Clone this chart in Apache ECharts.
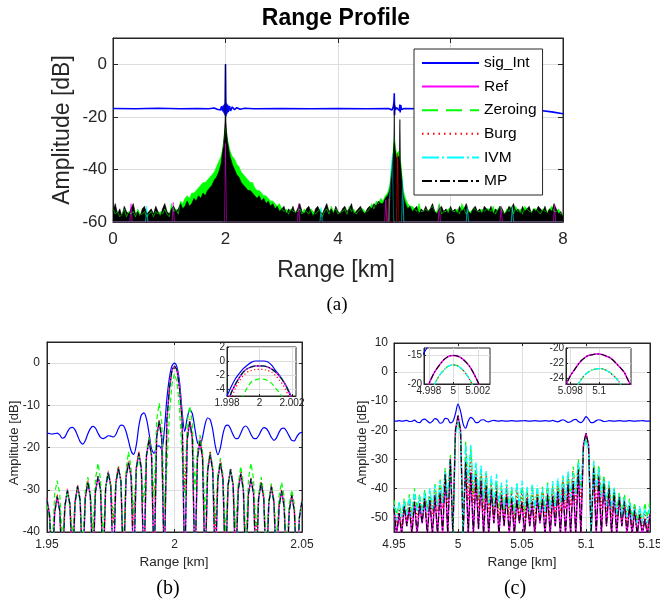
<!DOCTYPE html>
<html><head><meta charset="utf-8">
<script src="https://cdn.jsdelivr.net/npm/echarts@6/dist/echarts.min.js"></script>
<style>html,body{margin:0;padding:0;background:#fff}#c{width:660px;height:606px}</style>
</head><body><div id="c"></div>
<script>
// ================= DATA =================
const seriesNames = ['sig_Int','Ref','Zeroing','Burg','IVM','MP'];

// ---- Panel (a): 0..8 km ----
const aTicksX = [0,2,4,6,8];
const aTicksY = [-60,-40,-20,0];
const aNoiseX0 = 0, aNoiseStep = 0.04;
const aMP = [
-56,-53,-57,-55,-58,-54,-56,-57,-55,-53,
-57,-56,-58,-55,-54,-57,-56,-55,-57,-54,
-56,-58,-55,-53,-56,-57,-55,-54,-56,-55,
-53,-55,-54,-52,-54,-53,-51,-52,-50,-51,
-49,-50,-48,-47,-46,-44,-43,-41,-38,-31,
-22,-30,-35,-38,-40,-42,-43,-45,-46,-47,
-48,-48,-49,-50,-51,-50,-52,-51,-53,-52,
-54,-53,-55,-54,-56,-55,-54,-57,-55,-56,
-54,-57,-55,-53,-56,-57,-55,-54,-56,-58,
-55,-54,-56,-57,-55,-53,-56,-55,-57,-54,
-56,-57,-55,-54,-56,-55,-53,-57,-56,-55,
-54,-56,-57,-55,-54,-55,-53,-54,-52,-53,
-53,-51,-50,-48,-40,-30,-36,-35,-40,-50,
-53,-55,-54,-56,-55,-54,-57,-55,-56,-54,
-56,-55,-53,-56,-57,-55,-54,-56,-55,-57,
-54,-56,-55,-57,-54,-56,-55,-53,-56,-57,
-55,-54,-56,-55,-57,-54,-55,-56,-54,-57,
-55,-56,-54,-55,-57,-56,-54,-55,-53,-56,
-55,-57,-54,-56,-55,-54,-57,-55,-56,-54,
-55,-56,-54,-57,-55,-56,-53,-55,-57,-56,
-58];
const aZeroing = [
-55,-57,-56,-58,-57,-55,-58,-56,-57,-56,
-58,-55,-57,-57,-56,-58,-57,-56,-58,-56,
-57,-56,-57,-55,-57,-58,-53,-56,-55,-57,
-52,-53,-51,-50,-51,-49,-49,-48,-47,-46,
-45,-45,-44,-43,-42,-41,-39,-37,-35,-31,
-24,-29,-33,-35,-36,-38,-39,-41,-42,-43,
-44,-45,-45,-47,-48,-48,-49,-50,-50,-51,
-52,-52,-53,-54,-53,-55,-56,-55,-57,-55,
-56,-56,-56,-55,-57,-55,-56,-57,-55,-56,
-57,-56,-55,-58,-56,-55,-57,-54,-56,-55,
-57,-56,-56,-55,-57,-54,-56,-55,-57,-56,
-55,-55,-56,-56,-55,-53,-55,-52,-53,-51,
-52,-50,-49,-46,-38,-28,-34,-33,-38,-48,
-51,-53,-54,-54,-55,-56,-53,-56,-56,-55,
-56,-55,-54,-56,-56,-53,-57,-56,-56,-55,
-55,-56,-56,-55,-57,-53,-55,-57,-56,-56,
-55,-55,-56,-56,-55,-56,-55,-55,-56,-54,
-57,-55,-54,-56,-57,-55,-56,-54,-57,-54,
-56,-55,-57,-54,-55,-56,-56,-55,-55,-56,
-57,-55,-56,-56,-55,-54,-56,-56,-55,-57,
-57];
const aMPPeaks = [[1.97,-60],[1.985,-28],[1.995,-18],[1.999,-6],[2.0,0],[2.001,-6],[2.005,-18],[2.015,-28],[2.03,-60],
  [4.98,-60],[4.995,-25],[5.0,-15],[5.005,-25],[5.02,-60],[5.08,-60],[5.095,-28],[5.1,-21],[5.105,-28],[5.12,-60]];
const aRefSpikes = [[0,-60],[0.30,-60],[0.32,-53],[0.34,-60],[1.05,-60],[1.07,-52.5],[1.09,-60],[1.98,-60],[2.0,-30],[2.02,-60],
  [3.28,-60],[3.30,-53],[3.32,-60],[4.83,-60],[4.85,-51.5],[4.87,-60],[5.78,-60],[5.80,-53.5],[5.82,-60],
  [6.88,-60],[6.90,-54],[6.92,-60],[7.83,-60],[7.85,-53.5],[7.87,-60],[8,-60]];
const aIVMSpikes = [[0,-60],[0.58,-60],[0.6,-54],[0.62,-60],[3.68,-60],[3.7,-54.5],[3.72,-60],[4.9,-60],[4.93,-45],[4.95,-38],
  [4.97,-34],[4.99,-60],[5.13,-60],[5.15,-44],[5.17,-60],[6.28,-60],[6.3,-54],[6.32,-60],[7.08,-60],[7.1,-54],[7.12,-60],[8,-60]];
const aBurgSpikes = [[0,-60],[4.88,-60],[4.9,-51],[4.92,-60],[5.04,-60],[5.06,-34],[5.08,-60],[8,-60]];
const aSigInt = [[0,-16.8],[0.4,-16.9],[0.8,-16.7],[1.2,-16.9],[1.5,-16.8],[1.7,-16.9],[1.8,-16.6],[1.85,-17.1],[1.88,-16.4],
  [1.91,-17.4],[1.93,-16.0],[1.95,-17.9],[1.965,-15.6],[1.975,-18.6],[1.985,-15.0],[1.992,-19.4],[1.996,-12],[2.0,0],
  [2.004,-12],[2.008,-19.8],[2.015,-14.8],[2.025,-18.8],[2.035,-15.3],[2.05,-18.2],[2.07,-15.8],[2.09,-17.7],[2.12,-16.2],
  [2.16,-17.3],[2.2,-16.5],[2.26,-17.1],[2.34,-16.7],[2.5,-16.9],[3.0,-16.8],[3.5,-16.9],[4.0,-16.8],[4.5,-16.9],[4.9,-16.8],
  [4.96,-17.4],[4.985,-16.0],[4.996,-14],[5.0,-11],[5.003,-14],[5.006,-19.4],[5.01,-15.6],[5.02,-17.4],[5.04,-16.5],
  [5.07,-17.0],[5.09,-17.6],[5.1,-15.3],[5.105,-18.3],[5.115,-15.5],[5.13,-17.2],[5.18,-16.8],[5.5,-16.9],[6.0,-16.8],
  [6.5,-16.9],[7.0,-16.9],[7.3,-17.1],[7.6,-17.6],[7.8,-18.1],[8.0,-18.8]];

// ---- Panel (b): 1.95..2.05 km, step 0.001 ----
const bTicksX = [1.95,2,2.05];
const bTicksY = [-40,-30,-20,-10,0];
const bX0 = 1.95, bStep = 0.001;
const bMP = [
-32.5,-36,-50,-35.5,-31.6,-35,-50,-34,-30.2,-33.5,
-50,-33,-29.2,-32.5,-50,-32,-28.2,-31.5,-50,-30.5,
-26.9,-30,-50,-29.5,-25.9,-29,-50,-28.5,-24.9,-28,
-50,-27,-23.5,-27,-50,-25,-21.3,-25,-50,-22,
-18.2,-22,-50,-17.5,-13.8,-18,-50,-13.5,-6.0,-1.6,
-0.7,-1.6,-6.0,-13.5,-50,-18,-13.8,-18,-50,-22.5,
-18.5,-22.5,-50,-25.5,-21.6,-25.5,-50,-27.5,-23.6,-27.5,
-50,-29,-25.2,-29,-50,-30,-26.2,-30,-50,-31,
-27.4,-31,-50,-32,-28.4,-32,-50,-33,-29.3,-33,
-50,-34,-30.3,-34,-50,-35,-31.3,-35,-50,-36.5,
-32.7];
const bBurg = [
-32,-35.5,-45,-35,-31,-34.5,-48,-33.5,-29.8,-33,
-44,-32.5,-28.8,-32,-50,-31.5,-27.8,-31,-44,-30,
-26.5,-29.5,-50,-29,-25.5,-28.5,-38,-28,-24.4,-27.5,
-50,-26.5,-23,-26.5,-38.5,-24.5,-20.8,-24.5,-50,-21.5,
-17.6,-21.5,-42,-17,-13.3,-17.5,-50,-14,-6.6,-2.1,
-1.2,-2.1,-6.6,-14,-30,-17,-13.2,-17,-50,-21.5,
-17.6,-21.5,-50,-25,-20.8,-25,-40,-27,-23,-27,
-50,-28.5,-24.8,-28.5,-45,-29.5,-25.8,-29.5,-50,-30.5,
-27,-30.5,-42,-31.5,-28,-31.5,-50,-32.5,-28.9,-32.5,
-46,-33.5,-29.9,-33.5,-50,-34.5,-31,-34.5,-46,-36,
-32.3];
const bZeroing = [
-33.5,-37,-44,-31,-27.8,-31,-42,-34,-30.5,-34,
-41,-33,-29.5,-33,-44,-30.5,-27,-30.5,-40,-27.5,
-23.7,-27.5,-42,-29.5,-26,-29.5,-38,-28,-24.5,-28,
-45,-25,-21,-25,-36,-26,-22,-26,-33,-21.5,
-17.5,-21.5,-32,-13.5,-9.5,-14,-34,-25,-12,-5,
-2.5,-4.5,-11,-22,-32,-14,-10.2,-14,-30,-21,
-17,-21,-36,-24.5,-21,-24.5,-38,-26.5,-22.5,-26.5,
-40,-29,-25,-29,-39,-28.5,-24.5,-28.5,-42,-27.5,
-23.7,-27.5,-40,-31,-27,-31,-44,-32.5,-28.5,-32.5,
-42,-31.5,-28.2,-31.5,-45,-33.5,-30,-33.5,-47,-36.5,
-32.7];
const bSigInt = [
-16.6,-16.7,-16.8,-16.7,-16.6,-17.0,-17.8,-17.5,-16.3,-15.4,
-15.2,-15.8,-17.2,-18.6,-19.2,-18.4,-16.8,-15.5,-15.0,-15.4,
-16.6,-17.6,-17.9,-17.6,-17.2,-17.3,-17.5,-16.9,-15.5,-14.7,
-14.8,-16.2,-18.5,-20.8,-21.6,-19.5,-15.0,-12.3,-11.8,-13.2,
-16.5,-20.3,-21.4,-19.8,-19.6,-20.5,-16.0,-8.5,-3.5,-0.7,
0.0,-1.0,-4.6,-11.5,-16.2,-13.0,-11.0,-12.0,-15.5,-18.8,
-19.5,-17.5,-14.5,-13.0,-13.4,-15.8,-19.6,-21.7,-20.0,-16.8,
-14.9,-14.7,-15.6,-17.0,-17.9,-17.8,-16.6,-15.3,-14.9,-15.6,
-16.9,-17.8,-17.9,-17.2,-16.0,-15.3,-15.5,-16.4,-17.6,-18.3,
-17.7,-16.4,-15.5,-15.4,-16.2,-17.3,-18.3,-18.4,-17.4,-16.6,
-16.4];

// ---- Inset of (b): 1.998..2.00225 km, step 0.00025 ----
const ibTicksX = [1.998,2,2.002];
const ibTicksY = [-4,-2,0,2];
const ibX0 = 1.998, ibStep = 0.00025;
const ibSigInt = [-5.0,-3.7,-2.6,-1.8,-1.1,-0.6,-0.2,0.0,0.0,0.0,-0.1,-0.6,-1.4,-2.1,-3.0,-4.0,-5.3,-6.8];
const ibMP     = [-6.5,-4.6,-3.4,-2.4,-1.6,-1.1,-0.85,-0.72,-0.7,-0.72,-0.85,-1.15,-1.6,-2.2,-3.0,-4.1,-5.6,-7.2];
const ibBurg   = [-7.5,-5.6,-4.0,-2.9,-2.1,-1.6,-1.35,-1.22,-1.2,-1.22,-1.35,-1.6,-2.1,-2.8,-3.6,-4.8,-6.5,-8.5];
const ibZeroing= [-12,-10,-8,-6.5,-5.0,-3.8,-3.0,-2.7,-2.55,-2.6,-2.8,-3.2,-3.9,-4.6,-5.6,-7.5,-9.5,-11];

// ---- Panel (c): 4.95..5.15 km, step 0.002 ----
const cTicksX = [4.95,5,5.05,5.1,5.15];
const cTicksY = [-50,-40,-30,-20,-10,0,10];
const cX0 = 4.95, cStep = 0.002;
const cMP = [
-47,-56,-48.5,-56,-46,-53,-46.5,-56,-44.5,-56,
-45.5,-52,-43.5,-56,-44,-56,-42.5,-56,-41.5,-56,
-35,-56,-30,-56,-20,-15,-20,-56,-31,-56,
-34.5,-56,-36,-54,-37.5,-56,-39,-56,-40.5,-52,
-41,-56,-42.5,-53,-42,-56,-43.5,-56,-44,-52,
-44.5,-56,-43.5,-53,-44.5,-56,-43,-52,-43.5,-56,
-42,-56,-42.5,-53,-41,-56,-40,-56,-38.5,-56,
-37.5,-56,-33.5,-56,-25,-21,-25,-56,-33,-56,
-36,-56,-38,-53,-40,-56,-41.5,-56,-43,-53,
-44.5,-56,-46,-56,-47.5,-56,-49,-56,-50.5,-56,
-49];
const cZeroing = [
-44,-49,-45,-50,-43.5,-48,-42,-49,-40,-47,
-42,-48,-40.5,-47,-41,-48,-38.5,-46,-37,-45,
-33,-44,-28.5,-56,-21.5,-16.7,-21.5,-56,-24,-40,
-25.5,-42,-32,-44,-33.5,-45,-34.5,-46,-37,-47,
-37.5,-47,-39,-48,-38.5,-47,-40,-49,-38.5,-47,
-39.5,-48,-40.5,-48,-39,-47,-40,-48,-39.5,-47,
-38,-47,-39,-46,-37.5,-45,-36,-44,-35,-43,
-32.5,-42,-30,-40,-26.5,-22.8,-26.5,-56,-30.5,-40,
-32,-42,-35.5,-45,-38.5,-47,-40,-48,-41.5,-49,
-42,-49,-43.5,-50,-45,-51,-47,-52,-45,-50,
-44];
const cIVM = [
-46,-51,-44.5,-50,-44,-49,-43,-50,-41,-48,
-42.5,-49,-41,-48,-40,-47,-39,-46,-37.5,-45,
-34,-43,-30,-56,-21.5,-16.7,-21.5,-56,-25,-38,
-25,-40,-31,-42,-32,-44,-34,-45,-35.5,-46,
-35,-45,-38,-47,-37,-46,-39.5,-48,-38,-46,
-37.3,-46,-39.5,-48,-38.5,-47,-39,-48,-40,-48,
-38.5,-47,-37.5,-46,-36.5,-45,-35.5,-44,-34,-43,
-34.8,-42,-31,-40,-26.5,-22.8,-26.5,-56,-30.8,-40,
-33,-43,-36.5,-46,-37.5,-47,-39.5,-49,-42,-50,
-43,-50,-44.5,-51,-46,-52,-46,-52,-46.5,-52,
-46];
const cBurg = [
-46.5,-52,-47,-53,-45,-51,-45,-52,-42.5,-50,
-44,-50,-42,-49,-42.5,-49,-40.5,-48,-39.5,-47,
-34,-46,-29.5,-56,-21,-16,-21,-56,-27,-44,
-30,-45,-33.5,-47,-35,-48,-35.5,-48,-38.5,-50,
-39,-50,-40.5,-51,-39.5,-50,-41.5,-51,-40.5,-50,
-41,-51,-41.5,-51,-41.5,-51,-40.5,-50,-40.5,-50,
-40,-50,-40,-49,-38.5,-48,-37,-47,-36,-46,
-34,-45,-31.5,-44,-25.5,-21.8,-25.5,-56,-31.5,-45,
-34,-47,-37,-48,-39,-50,-40.5,-50,-42,-51,
-43.5,-52,-45,-53,-46,-53,-48,-54,-48,-54,
-47];
const cSigInt = [
-16.8,-16.9,-16.7,-16.9,-16.8,-16.6,-17.0,-16.9,-16.5,-17.2,
-17.4,-16.5,-16.2,-16.8,-17.5,-16.9,-16.0,-16.4,-17.6,-17.3,
-15.9,-16.1,-17.5,-17.0,-14.3,-11.0,-13.5,-17.8,-19.3,-16.8,
-15.6,-16.2,-17.4,-17.3,-16.5,-16.4,-16.9,-17.1,-16.8,-16.6,
-16.8,-16.9,-16.7,-16.8,-16.9,-16.8,-16.7,-16.8,-16.9,-16.8,
-16.8,-16.7,-16.8,-16.9,-16.8,-16.7,-16.8,-16.9,-16.8,-16.7,
-16.8,-16.9,-16.6,-16.9,-17.1,-16.7,-16.4,-16.8,-17.3,-17.1,
-16.5,-16.3,-17.0,-17.4,-16.6,-15.3,-16.2,-17.4,-17.3,-16.7,
-16.4,-16.6,-17.0,-16.9,-16.7,-16.8,-16.9,-16.8,-16.7,-16.8,
-16.9,-16.8,-16.7,-16.8,-16.9,-16.8,-16.8,-16.7,-16.8,-16.9,
-16.8];

// ---- Inset 1 of (c): 4.9975..5.003 km, step 0.00025 ----
const ic1TicksX = [4.998,5,5.002];
const ic1TicksY = [-20,-15];
const ic1X0 = 4.9975, ic1Step = 0.00025;
const ic1MP  = [-23,-21.4,-20.0,-18.8,-17.8,-17.0,-16.3,-15.7,-15.3,-15.05,-15.0,-15.05,-15.25,-15.6,-16.1,-16.7,-17.5,-18.5,-19.6,-20.9,-22.3,-24,-26];
const ic1Low = [-26,-24,-22.3,-21,-19.9,-18.9,-18.1,-17.5,-17.0,-16.75,-16.65,-16.75,-17.0,-17.5,-18.1,-18.9,-19.9,-21.0,-22.3,-24,-26,-28,-30];
const ic1SigInt = [-14.9,-14.0,-13.2,-12.5,-12.0,-11.6,-11.3,-11.1,-11.0,-10.95,-10.9,-10.95,-11.0,-11.1,-11.3,-11.5,-11.8,-12.0,-12.3,-12.6,-12.9,-13.1,-13.3];

// ---- Inset 2 of (c): 5.0975..5.1025 km, step 0.00025 ----
const ic2TicksX = [5.098,5.1];
const ic2TicksY = [-24,-22,-20];
const ic2X0 = 5.0975, ic2Step = 0.00025;
const ic2MP  = [-25.8,-24.7,-23.7,-23.0,-22.3,-21.7,-21.3,-21.0,-20.9,-20.8,-20.8,-20.9,-21.1,-21.3,-21.7,-22.2,-22.7,-23.3,-24.3,-25.2,-26.2];
const ic2Low = [-29,-28,-27,-26.2,-25,-24.2,-23.6,-23.2,-22.95,-22.8,-22.75,-22.8,-23.0,-23.3,-23.7,-24.2,-24.9,-25.7,-26.6,-27.6,-28.6];

// ================= STYLE / BUILD =================
const FF = '"Liberation Sans", Arial, Helvetica, sans-serif';
const SERIF = '"Liberation Serif", "Times New Roman", serif';
const AXC = '#262626', GRC = '#dedede';
const sty = {
  sig_Int: {color:'#0000ff', width:1.2, type:'solid'},
  Ref:     {color:'#ff00ff', width:1.5, type:'solid'},
  Zeroing: {color:'#00ff00', width:1.2, type:[5,3]},
  Burg:    {color:'#ff0000', width:1.2, type:[1.2,2.4]},
  IVM:     {color:'#00ffff', width:1.3, type:[6,2,1.5,2]},
  MP:      {color:'#000000', width:1.1, type:[6,2,1.5,2]}
};
const legSty = {
  sig_Int: {color:'#0000ff', width:1.3, type:'solid'},
  Ref:     {color:'#ff00ff', width:2, type:'solid'},
  Zeroing: {color:'#00ff00', width:1.3, type:[16,8]},
  Burg:    {color:'#ff0000', width:1.3, type:[1.5,4]},
  IVM:     {color:'#00ffff', width:2, type:[17,3,2,3]},
  MP:      {color:'#000000', width:1.3, type:[10,3,2,3]}
};
function seq(x0, step, ys){ return ys.map((y,i)=>[+(x0+i*step).toFixed(6), y]); }

const grids=[], xAxes=[], yAxes=[], series=[];
function addPanel(rect, xr, yr, xt, yt, o){
  const gi = grids.length;
  grids.push(Object.assign({show:true, borderColor:AXC, borderWidth:1, backgroundColor:'#fff', containLabel:false, outerBoundsMode:'none', z:o.z||0}, rect));
  const z = o.z ? o.z+1 : 0;
  const lab = (vals, m) => ({show:true, customValues:vals, margin:m, fontSize:o.fs, fontFamily:FF, color:AXC});
  xAxes.push({gridIndex:gi, type:'value', min:xr[0], max:xr[1], position:'bottom', z,
    axisLine:{show:true, onZero:false, lineStyle:{color:AXC, width:1}},
    axisTick:{show:true, inside:true, length:o.tl, customValues:xt, lineStyle:{color:AXC, width:1}},
    axisLabel:lab(xt, o.xm), splitLine:{show:true, lineStyle:{color:GRC, width:1}}});
  const xi = xAxes.length-1;
  yAxes.push({gridIndex:gi, type:'value', min:yr[0], max:yr[1], position:'left', z,
    axisLine:{show:true, onZero:false, lineStyle:{color:AXC, width:1}},
    axisTick:{show:true, inside:true, length:o.tl, customValues:yt, lineStyle:{color:AXC, width:1}},
    axisLabel:lab(yt, o.ym), splitLine:{show:true, lineStyle:{color:GRC, width:1}}});
  const yi = yAxes.length-1;
  if (o.mirror){
    xAxes.push({gridIndex:gi, type:'value', min:xr[0], max:xr[1], position:'top', z,
      axisLine:{show:true, onZero:false, lineStyle:{color:AXC}},
      axisTick:{show:true, inside:true, length:o.tl, customValues:xt, lineStyle:{color:AXC}},
      axisLabel:{show:false}, splitLine:{show:false}});
    yAxes.push({gridIndex:gi, type:'value', min:yr[0], max:yr[1], position:'right', z,
      axisLine:{show:true, onZero:false, lineStyle:{color:AXC}},
      axisTick:{show:true, inside:true, length:o.tl, customValues:yt, lineStyle:{color:AXC}},
      axisLabel:{show:false}, splitLine:{show:false}});
  }
  return {xi, yi, z:o.z?o.z+2:2};
}
function addLine(p, name, data, extra){
  const s = sty[name];
  series.push(Object.assign({name, type:'line', xAxisIndex:p.xi, yAxisIndex:p.yi, data, z:p.z,
    symbol:'none', showSymbol:false, silent:true, clip:true, animation:false,
    lineStyle:{color:s.color, width:s.width, type:s.type}, itemStyle:{color:s.color}}, extra||{}));
}
function addArea(p, name, data){
  const c = sty[name].color;
  series.push({name, type:'line', xAxisIndex:p.xi, yAxisIndex:p.yi, data, z:p.z,
    symbol:'none', showSymbol:false, silent:true, clip:true, animation:false,
    lineStyle:{color:c, width:0.6, type:'solid'}, itemStyle:{color:c},
    areaStyle:{color:c, opacity:1, origin:'start'}});
}

// Panel (a)
const pa = addPanel({left:113, top:38, width:450, height:184}, [0,8], [-60,10], aTicksX, aTicksY, {fs:17, tl:5, xm:9, ym:6, mirror:true});
// legend icon carriers (first series of each name)
seriesNames.forEach(n => series.push({name:n, type:'line', xAxisIndex:pa.xi, yAxisIndex:pa.yi, data:[], symbol:'none',
  lineStyle:{color:legSty[n].color, width:legSty[n].width, type:legSty[n].type}, itemStyle:{color:legSty[n].color}}));
addLine(pa, 'sig_Int', aSigInt, {lineStyle:{color:'#0000ff', width:1.6}});
addArea(pa, 'Ref', aRefSpikes);
addArea(pa, 'Zeroing', seq(aNoiseX0, aNoiseStep, aZeroing));
addArea(pa, 'Burg', aBurgSpikes);
addArea(pa, 'IVM', aIVMSpikes);
addArea(pa, 'MP', seq(aNoiseX0, aNoiseStep, aMP));
addArea(pa, 'MP', aMPPeaks);

// Panel (b)
const pb = addPanel({left:47, top:342, width:255, height:190}, [1.95,2.05], [-40,5], bTicksX, bTicksY, {fs:12, tl:3, xm:7, ym:7, mirror:true});
addLine(pb, 'sig_Int', seq(bX0,bStep,bSigInt), {smooth:0.3});
addLine(pb, 'Ref', seq(bX0,bStep,bMP));
addLine(pb, 'Zeroing', seq(bX0,bStep,bZeroing));
addLine(pb, 'Burg', seq(bX0,bStep,bBurg));
addLine(pb, 'IVM', seq(bX0,bStep,bMP));
addLine(pb, 'MP', seq(bX0,bStep,bMP));
// Inset (b)
const pib = addPanel({left:227, top:347, width:69, height:49}, [1.998,2.00225], [-5,2], ibTicksX, ibTicksY, {fs:10, tl:2, xm:2, ym:2, z:5});
addLine(pib, 'sig_Int', seq(ibX0,ibStep,ibSigInt), {smooth:0.3});
addLine(pib, 'Ref', seq(ibX0,ibStep,ibMP), {smooth:0.3});
addLine(pib, 'Zeroing', seq(ibX0,ibStep,ibZeroing), {smooth:0.3});
addLine(pib, 'Burg', seq(ibX0,ibStep,ibBurg), {smooth:0.3});
addLine(pib, 'IVM', seq(ibX0,ibStep,ibMP), {smooth:0.3});
addLine(pib, 'MP', seq(ibX0,ibStep,ibMP), {smooth:0.3});

// Panel (c)
const pc = addPanel({left:394, top:343, width:256, height:189}, [4.95,5.15], [-55,10], cTicksX, cTicksY, {fs:12, tl:3, xm:7, ym:6, mirror:true});
addLine(pc, 'sig_Int', seq(cX0,cStep,cSigInt), {smooth:0.3});
addLine(pc, 'Ref', seq(cX0,cStep,cMP));
addLine(pc, 'Zeroing', seq(cX0,cStep,cZeroing));
addLine(pc, 'Burg', seq(cX0,cStep,cBurg));
addLine(pc, 'IVM', seq(cX0,cStep,cIVM));
addLine(pc, 'MP', seq(cX0,cStep,cMP));
// Inset 1 (c)
const pc1 = addPanel({left:424, top:348, width:66, height:36}, [4.9976,5.003], [-20,-13.7], ic1TicksX, ic1TicksY, {fs:10, tl:2, xm:2, ym:2, z:5});
addLine(pc1, 'sig_Int', seq(ic1X0,ic1Step,ic1SigInt), {smooth:0.3});
addLine(pc1, 'Ref', seq(ic1X0,ic1Step,ic1MP), {smooth:0.3});
addLine(pc1, 'Zeroing', seq(ic1X0,ic1Step,ic1Low), {smooth:0.3});
addLine(pc1, 'Burg', seq(ic1X0,ic1Step,ic1Low), {smooth:0.3});
addLine(pc1, 'IVM', seq(ic1X0,ic1Step,ic1Low), {smooth:0.3});
addLine(pc1, 'MP', seq(ic1X0,ic1Step,ic1MP), {smooth:0.3});
// Inset 2 (c)
const pc2 = addPanel({left:566, top:348, width:65, height:36}, [5.0977,5.1022], [-24.8,-20], ic2TicksX, ic2TicksY, {fs:10, tl:2, xm:2, ym:2, z:5});
addLine(pc2, 'Ref', seq(ic2X0,ic2Step,ic2MP), {smooth:0.3});
addLine(pc2, 'Zeroing', seq(ic2X0,ic2Step,ic2Low), {smooth:0.3});
addLine(pc2, 'Burg', seq(ic2X0,ic2Step,ic2Low), {smooth:0.3});
addLine(pc2, 'IVM', seq(ic2X0,ic2Step,ic2Low), {smooth:0.3});
addLine(pc2, 'MP', seq(ic2X0,ic2Step,ic2MP), {smooth:0.3});

function txt(x, y, text, size, o){
  o = o||{};
  return {type:'text', x, y, rotation:o.rot||0, z:20, silent:true,
    style:{text, fontSize:size, fontFamily:o.ff||FF, fontWeight:o.fw||'normal', fill:o.fill||AXC, align:'center', verticalAlign:'middle'}};
}
const graphics = [
  txt(336, 19, 'Range Profile', 23, {fw:'bold', fill:'#000'}),
  txt(336, 271, 'Range [km]', 23),
  txt(63, 130, 'Amplitude [dB]', 23, {rot:Math.PI/2}),
  txt(337, 305, '(a)', 19, {ff:SERIF, fill:'#000'}),
  txt(174, 562, 'Range [km]', 13.5),
  txt(14, 443, 'Amplitude [dB]', 13, {rot:Math.PI/2}),
  txt(168, 589, '(b)', 20, {ff:SERIF, fill:'#000'}),
  txt(522, 562, 'Range [km]', 13.5),
  txt(362, 443, 'Amplitude [dB]', 13, {rot:Math.PI/2}),
  txt(515, 589, '(c)', 20, {ff:SERIF, fill:'#000'})
];

const chart = echarts.init(document.getElementById('c'), null, {renderer:'canvas'});
chart.setOption({
  animation:false,
  backgroundColor:'#fff',
  grid:grids, xAxis:xAxes, yAxis:yAxes, series,
  legend:{data:seriesNames, orient:'vertical', left:414, top:49, itemWidth:57, itemHeight:14, itemGap:7.6,
    padding:[6,6,6,7], borderColor:AXC, borderWidth:1, backgroundColor:'#fff', selectedMode:false, z:10,
    itemStyle:{opacity:0, borderWidth:0},
    textStyle:{fontSize:15.5, fontFamily:FF, color:'#000'}},
  graphic:graphics
});
</script></body></html>
